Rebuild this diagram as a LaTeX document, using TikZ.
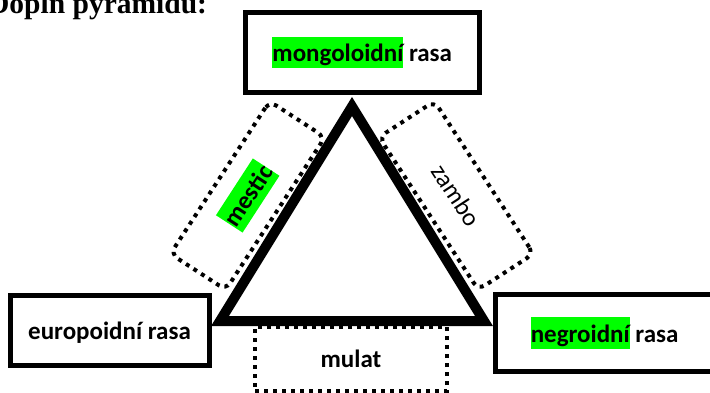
\documentclass[tikz,border=0pt]{standalone}
\usepackage{fontspec}
\setmainfont{Liberation Serif}
\newfontfamily\calibri{Carlito}
\definecolor{hlgreen}{RGB}{0,255,0}
% green highlight as in the word processor
\newcommand{\hlg}[1]{{\setlength{\fboxsep}{0pt}\colorbox{hlgreen}{\rule[-0.27em]{0pt}{1.27em}#1}}}
\tikzset{
  racebox/.style={draw, line width=5pt, inner sep=0pt, text height=25pt, text depth=6.75pt,
    font={\calibri\bfseries\fontsize{25pt}{30pt}\selectfont}},
  mixbox/.style={draw, line width=4pt, dash pattern=on 4pt off 5pt, inner sep=0pt,
    font={\calibri\bfseries\fontsize{25pt}{30pt}\selectfont}}
}
\begin{document}
\begin{tikzpicture}[x=1pt, y=-1pt]
        \useasboundingbox (0,0) rectangle (710,392);
        % Title, cut by the top edge
        \node[anchor=base west, inner sep=0pt, font={\bfseries\fontsize{29.5pt}{35pt}\selectfont}] (title) at (-12,13) {Doplň pyramidu:};
        % Dotted boxes for the mixed types
        \node[mixbox, rounded corners=8pt, rotate=57, minimum width=182pt, minimum height=66pt] (mestic) at (247.7,195.5) {\hlg{mestic}};
        \node[mixbox, rounded corners=8pt, rotate=-57, minimum width=182pt, minimum height=66pt, font={\calibri\fontsize{25pt}{30pt}\selectfont}] (zambo) at (456.3,195.5) {zambo};
        \node[mixbox, minimum width=192pt, minimum height=64pt] (mulat) at (351,359) {mulat};
        % The three races
        \node[racebox, minimum width=233.5pt, minimum height=80pt] (mongol) at (362.25,52.5) {\hlg{mongoloidní} rasa};
        \node[racebox, minimum width=199pt, minimum height=70pt] (europ) at (109.5,330.8) {europoidní rasa};
        \node[racebox, minimum width=217.6pt, minimum height=77pt] (negro) at (604.6,333) {\hlg{negroidní} rasa};
        % The pyramid
        \coordinate (apex) at (352,106.5);
        \coordinate (leftc) at (220,321);
        \coordinate (rightc) at (484,321);
        \draw[line width=10pt, line join=miter] (apex) -- (leftc) -- (rightc) -- cycle;
      \end{tikzpicture}
\end{document}
